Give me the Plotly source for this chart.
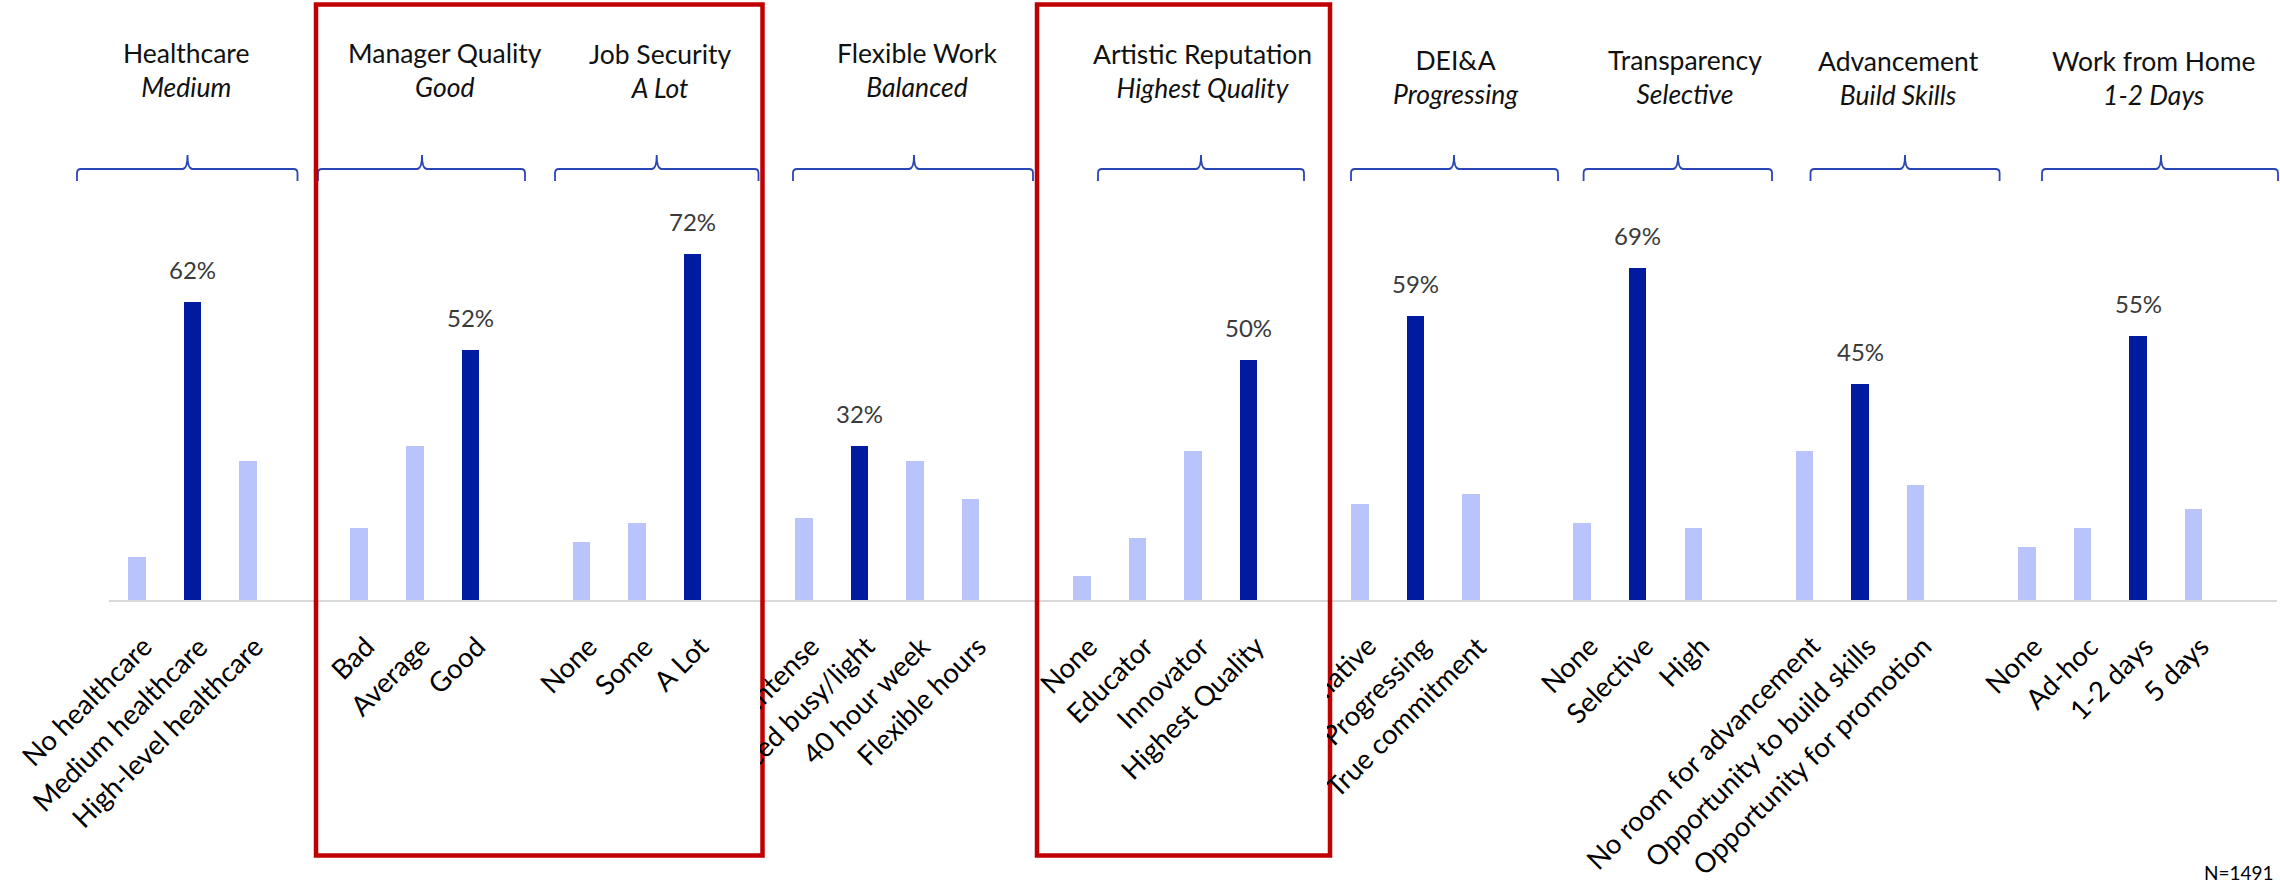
import plotly.graph_objects as go

# ---------------- data ----------------
groups = ["Healthcare", "Manager Quality", "Job Security", "Flexible Work",
          "Artistic Reputation", "DEI&A", "Transparency", "Advancement", "Work from Home"]
subtitles = ["Medium", "Good", "A Lot", "Balanced", "Highest Quality",
             "Progressing", "Selective", "Build Skills", "1-2 Days"]

healthcare_opts = ["No healthcare", "Medium healthcare", "High-level healthcare"]
healthcare_vals = [9, 62, 29]
manager_opts = ["Bad", "Average", "Good"]
manager_vals = [15, 32, 52]
job_opts = ["None", "Some", "A Lot"]
job_vals = [12, 16, 72]
flex_opts = ["Intense", "Balanced busy/light", "40 hour week", "Flexible hours"]
flex_vals = [17, 32, 29, 21]
art_opts = ["None", "Educator", "Innovator", "Highest Quality"]
art_vals = [5, 13, 31, 50]
dei_opts = ["Performative", "Progressing", "True commitment"]
dei_vals = [20, 59, 22]
trans_opts = ["None", "Selective", "High"]
trans_vals = [16, 69, 15]
adv_opts = ["No room for advancement", "Opportunity to build skills", "Opportunity for promotion"]
adv_vals = [31, 45, 24]
wfh_opts = ["None", "Ad-hoc", "1-2 days", "5 days"]
wfh_vals = [11, 15, 55, 19]

highlight_idx = [1, 2, 2, 1, 3, 1, 1, 1, 2]
boxed_groups = [1, 2, 4]
sample_note = "N=1491"

all_opts = [healthcare_opts, manager_opts, job_opts, flex_opts, art_opts,
            dei_opts, trans_opts, adv_opts, wfh_opts]
all_vals = [healthcare_vals, manager_vals, job_vals, flex_vals, art_vals,
            dei_vals, trans_vals, adv_vals, wfh_vals]

# ---------------- layout constants ----------------
W, H = 2280, 886
ML, MR, MT = 109, 3, 0
PLOT_BOTTOM = 600
PW = W - ML - MR
PH = PLOT_BOTTOM - MT
PX_PER_PCT = 4.806

DARK = "#001BA0"
LIGHT = "#BAC4FC"
RED = "#C00000"
BRACKET = "#2A45B5"
FONT = "Lato"
LABEL_SIZE = 27.5


def fx(px):
    return (px - ML) / PW


def fy(py):
    return (PLOT_BOTTOM - py) / PH


# slot positions: one empty slot between groups
xs, ys, cols, labels, grp_of = [], [], [], [], []
slot = 0
for g, (opts, vals) in enumerate(zip(all_opts, all_vals)):
    for i, (o, v) in enumerate(zip(opts, vals)):
        xs.append(slot)
        ys.append(v)
        cols.append(DARK if i == highlight_idx[g] else LIGHT)
        labels.append(o)
        grp_of.append(g)
        slot += 1
    slot += 1
n_slots = slot - 1

fig = go.Figure()
fig.add_trace(go.Bar(x=xs, y=ys, marker=dict(color=cols, line=dict(width=0)),
                     width=0.315, hoverinfo="skip", showlegend=False))

annotations = []


def label_ann(x, text):
    return dict(x=x, xref="x", y=fy(628), yref="paper", text=text,
                textangle=-45, xanchor="right", yanchor="top", xshift=23,
                showarrow=False, borderpad=0,
                font=dict(family=FONT, size=LABEL_SIZE, color="#000000"))


# category labels: non-boxed first, then white covers, then boxed labels
for x, t, g in zip(xs, labels, grp_of):
    if g not in boxed_groups:
        annotations.append(label_ann(x, t))

red_boxes_px = [(316, 762.5), (1037, 1330)]
for (bx0, bx1) in red_boxes_px:
    annotations.append(dict(x=fx(bx0 + 3), xref="paper", y=fy(603), yref="paper",
                            text=" ", width=bx1 - bx0 - 6, height=250,
                            xanchor="left", yanchor="top", showarrow=False,
                            bgcolor="#FFFFFF", borderpad=0, borderwidth=0))

for x, t, g in zip(xs, labels, grp_of):
    if g in boxed_groups:
        annotations.append(label_ann(x, t))

# percent labels over highlighted bars
for x, v, c in zip(xs, ys, cols):
    if c == DARK:
        annotations.append(dict(x=x, xref="x", y=v, yref="y", text=f"{v}%",
                                xanchor="center", yanchor="bottom", yshift=16,
                                showarrow=False,
                                font=dict(family=FONT, size=24, color="#3A3A3A")))

# headers
header_cx = [185.5, 445, 660, 917, 1202, 1455.6, 1684.7, 1898, 2154]
header_top = [35, 35, 36, 35, 36, 42, 42, 43, 43]
for g in range(len(groups)):
    annotations.append(dict(x=fx(header_cx[g]), xref="paper", y=fy(header_top[g]),
                            yref="paper", text=f"{groups[g]}<br><i>{subtitles[g]}</i>",
                            xanchor="center", yanchor="top", showarrow=False,
                            align="center",
                            font=dict(family=FONT, size=26.5, color="#111111")))

annotations.append(dict(x=fx(2276), xref="paper", y=fy(886), yref="paper",
                        text=sample_note, xanchor="right", yanchor="bottom",
                        showarrow=False, font=dict(family=FONT, size=19, color="#000000")))

# brackets + red boxes
shapes = []
brackets_px = [(77, 187.5, 297.5), (318, 422, 525), (555, 656.7, 758.5),
               (793, 914, 1033), (1098, 1201, 1304), (1351, 1454, 1558),
               (1583.6, 1678, 1772), (1810.5, 1905, 1999.6), (2042, 2161, 2278)]
for (x0, tp, x1) in brackets_px:
    yb, yh, yt = 181, 169, 155
    p = (f"M {fx(x0)},{fy(yb)} L {fx(x0)},{fy(yh+4)} Q {fx(x0)},{fy(yh)} {fx(x0+4)},{fy(yh)} "
         f"L {fx(tp-5)},{fy(yh)} Q {fx(tp)},{fy(yh)} {fx(tp)},{fy(yt)} "
         f"Q {fx(tp)},{fy(yh)} {fx(tp+5)},{fy(yh)} L {fx(x1-4)},{fy(yh)} "
         f"Q {fx(x1)},{fy(yh)} {fx(x1)},{fy(yh+4)} L {fx(x1)},{fy(yb)}")
    shapes.append(dict(type="path", path=p, xref="paper", yref="paper",
                       line=dict(color=BRACKET, width=1.8), layer="above"))

for (bx0, bx1) in red_boxes_px:
    shapes.append(dict(type="rect", xref="paper", yref="paper",
                       x0=fx(bx0), x1=fx(bx1), y0=fy(4.5), y1=fy(855.5),
                       line=dict(color=RED, width=4.5), fillcolor="rgba(0,0,0,0)",
                       layer="above"))

fig.update_layout(
    width=W, height=H,
    margin=dict(l=ML, r=MR, t=MT, b=H - PLOT_BOTTOM, pad=0),
    paper_bgcolor="#FFFFFF", plot_bgcolor="#FFFFFF",
    xaxis=dict(range=[-0.5, n_slots + 0.5], showgrid=False, zeroline=False,
               showticklabels=False, ticks="", showline=True,
               linecolor="#D9D9D9", linewidth=2, fixedrange=True),
    yaxis=dict(range=[0, PH / PX_PER_PCT], visible=False, fixedrange=True),
    annotations=annotations, shapes=shapes,
    bargap=0, showlegend=False,
)

fig.write_html("out.html", config={"displayModeBar": False})
